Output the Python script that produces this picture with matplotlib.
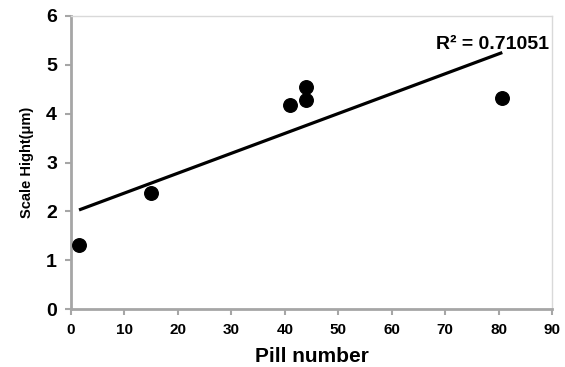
import numpy as np
import matplotlib
matplotlib.use("Agg")
import matplotlib.pyplot as plt

plt.rcParams['font.family'] = ['Liberation Sans', 'DejaVu Sans']

pill_number = [1.5, 15, 41, 44, 44, 80.7]
scale_height = [1.32, 2.38, 4.17, 4.27, 4.55, 4.32]
r2_label = "R² = 0.71051"
x_ticks = list(range(0, 91, 10))
y_ticks = list(range(0, 7))

fig = plt.figure(figsize=(5.65, 3.67), dpi=100)
ax = fig.add_axes([71/565, 1-309/367, (552-71)/565, (309-16)/367])

ax.scatter(pill_number, scale_height, s=95, color='black', zorder=3)
coef = np.polyfit(pill_number, scale_height, 1)
xs = np.array([min(pill_number), max(pill_number)])
ax.plot(xs, np.polyval(coef, xs), color='black', lw=2.3, solid_capstyle='butt', zorder=2)

ax.set_xlim(0, 90)
ax.set_ylim(0, 6)
ax.set_xticks(x_ticks)
ax.set_yticks(y_ticks)

for s in ['left', 'bottom']:
    ax.spines[s].set_color('#a6a6a6')
    ax.spines[s].set_linewidth(2)
for s in ['top', 'right']:
    ax.spines[s].set_color('#d9d9d9')
    ax.spines[s].set_linewidth(1)

ax.tick_params(axis='both', direction='out', color='#a6a6a6', width=1.5, length=4)
ax.tick_params(axis='y', labelsize=14, pad=6)
ax.tick_params(axis='x', labelsize=11, pad=6)
for lab in ax.get_xticklabels() + ax.get_yticklabels():
    lab.set_fontweight('bold')

ax.set_xlabel("Pill number", fontsize=15, fontweight='bold', labelpad=7)
ax.set_ylabel("Scale Hight(μm)", fontsize=10.5, fontweight='bold', labelpad=9)

ax.text(89.5, 5.42, r2_label, ha='right', va='center', fontsize=14, fontweight='bold')

fig.savefig("out.png", dpi=100)
